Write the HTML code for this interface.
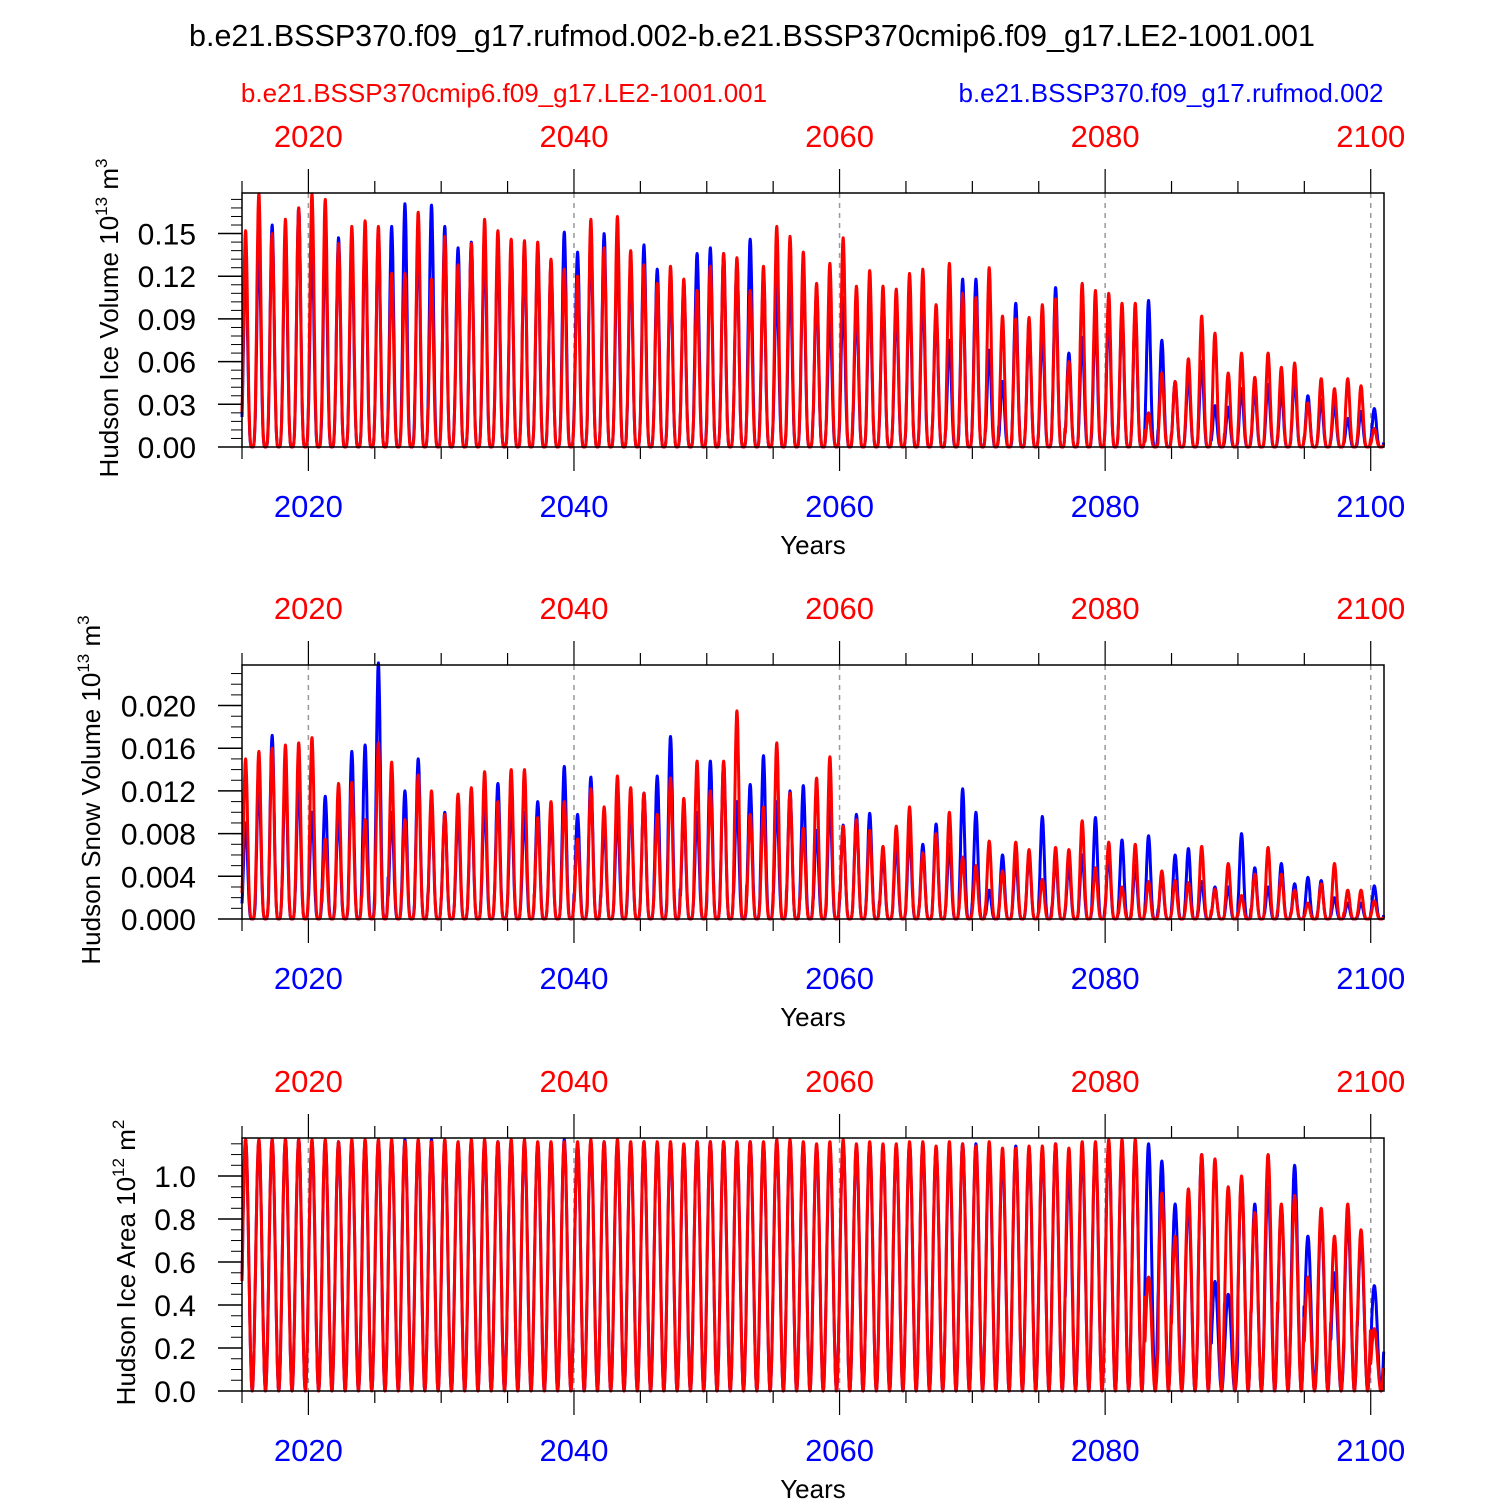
<!DOCTYPE html>
<html><head><meta charset="utf-8"><style>
body{margin:0;background:#fff}
svg{display:block;font-family:"Liberation Sans",sans-serif}
</style></head><body>
<svg id="chart" width="1500" height="1500" viewBox="0 0 1500 1500" xmlns="http://www.w3.org/2000/svg">
<text x="752" y="46" font-size="30.5" text-anchor="middle">b.e21.BSSP370.f09_g17.rufmod.002-b.e21.BSSP370cmip6.f09_g17.LE2-1001.001</text>
<text x="504" y="102" font-size="26" fill="#f00" text-anchor="middle">b.e21.BSSP370cmip6.f09_g17.LE2-1001.001</text>
<text x="1171" y="102" font-size="26" fill="#00f" text-anchor="middle">b.e21.BSSP370.f09_g17.rufmod.002</text>
</svg>
<script>
const years = [];
for (let y = 2015; y <= 2100; y++) years.push(y);
const xTickYears = [2020, 2040, 2060, 2080, 2100];

const iceVolRed = [.152,.178,.150,.160,.168,.178,.174,.143,.155,.159,
.155,.122,.122,.165,.118,.148,.128,.143,.160,.152,
.146,.145,.144,.132,.125,.120,.160,.140,.162,.138,
.128,.115,.127,.118,.110,.127,.136,.133,.110,.127,
.155,.148,.137,.115,.129,.147,.113,.124,.113,.111,
.122,.125,.100,.129,.108,.105,.126,.092,.090,.091,
.100,.104,.060,.115,.110,.108,.101,.101,.024,.052,
.046,.062,.092,.080,.052,.066,.049,.066,.056,.059,
.031,.048,.041,.048,.043,.013];
const iceVolBlue = [.130,.145,.156,.150,.168,.140,.145,.147,.140,.150,
.150,.155,.171,.150,.170,.155,.140,.144,.145,.140,
.140,.140,.138,.130,.151,.137,.150,.150,.140,.130,
.142,.125,.120,.115,.136,.140,.136,.130,.146,.120,
.115,.120,.125,.110,.095,.105,.100,.110,.105,.100,
.110,.110,.095,.075,.118,.118,.068,.046,.101,.085,
.082,.112,.066,.077,.090,.095,.095,.095,.103,.075,
.046,.050,.060,.029,.028,.041,.040,.044,.040,.048,
.036,.033,.030,.020,.025,.027];
const snowRed = [.0150,.0157,.0160,.0163,.0165,.0170,.0075,.0127,.0128,.0093,
.0165,.0147,.0093,.0135,.0120,.0098,.0117,.0123,.0138,.0110,
.0140,.0140,.0095,.0110,.0110,.0075,.0122,.0105,.0134,.0123,
.0118,.0098,.0132,.0113,.0148,.0120,.0148,.0195,.0098,.0105,
.0165,.0118,.0085,.0132,.0152,.0087,.0093,.0083,.0068,.0087,
.0105,.0062,.0080,.0100,.0058,.0050,.0073,.0045,.0072,.0065,
.0037,.0067,.0065,.0092,.0048,.0072,.0030,.0070,.0035,.0045,
.0036,.0034,.0068,.0028,.0052,.0022,.0042,.0067,.0042,.0027,
.0015,.0033,.0052,.0027,.0027,.0017];
const snowBlue = [.0090,.0130,.0172,.0140,.0130,.0100,.0115,.0100,.0157,.0163,
.0240,.0100,.0120,.0150,.0110,.0100,.0100,.0110,.0110,.0127,
.0110,.0100,.0110,.0100,.0143,.0098,.0133,.0090,.0100,.0110,
.0118,.0134,.0171,.0100,.0100,.0148,.0147,.0110,.0126,.0153,
.0110,.0120,.0125,.0083,.0110,.0088,.0098,.0099,.0060,.0070,
.0080,.0070,.0089,.0070,.0122,.0100,.0027,.0060,.0055,.0060,
.0096,.0056,.0050,.0060,.0095,.0060,.0074,.0050,.0078,.0040,
.0060,.0066,.0035,.0030,.0030,.0080,.0048,.0030,.0052,.0033,
.0039,.0036,.0020,.0015,.0015,.0031];
const areaRed = [1.17,1.17,1.17,1.17,1.17,1.17,1.17,1.16,1.17,1.17,
1.17,1.17,1.16,1.17,1.16,1.17,1.16,1.17,1.17,1.16,
1.17,1.17,1.16,1.16,1.16,1.16,1.17,1.16,1.17,1.16,
1.16,1.16,1.16,1.15,1.16,1.16,1.16,1.16,1.16,1.16,
1.17,1.17,1.16,1.15,1.16,1.17,1.15,1.16,1.15,1.15,
1.16,1.16,1.14,1.16,1.15,1.14,1.16,1.13,1.13,1.14,
1.14,1.15,1.13,1.16,1.16,1.17,1.17,1.17,.53,.92,
.72,.94,1.10,1.08,.95,1.00,.83,1.10,.87,.91,
.53,.85,.72,.87,.75,.29];
const areaBlue = [1.17,1.16,1.17,1.17,1.17,1.16,1.16,1.16,1.16,1.16,
1.16,1.16,1.17,1.16,1.17,1.16,1.15,1.16,1.16,1.16,
1.16,1.16,1.15,1.15,1.17,1.15,1.16,1.16,1.16,1.15,
1.16,1.15,1.15,1.14,1.16,1.16,1.16,1.15,1.16,1.15,
1.16,1.16,1.15,1.14,1.14,1.15,1.14,1.15,1.14,1.14,
1.15,1.15,1.13,1.12,1.15,1.15,1.12,1.10,1.14,1.12,
1.12,1.15,1.02,1.12,1.14,1.15,1.15,1.15,1.15,1.07,
.87,.88,1.10,.51,.45,.98,.87,.95,.85,1.05,
.72,.80,.55,.80,.70,.49];

const panels = [
 {name:'ice-volume', top:193, bottom:447, ymax:0.1785, ticks:[0,.03,.06,.09,.12,.15], minor:.006, dec:2, red:iceVolRed, blue:iceVolBlue, pw:2.2, title:'Hudson Ice Volume 10', exp:'13', unit:' m', uexp:'3', tx:118},
 {name:'snow-volume', top:665, bottom:919, ymax:0.0238, ticks:[0,.004,.008,.012,.016,.02], minor:.001, dec:3, red:snowRed, blue:snowBlue, pw:2.2, title:'Hudson Snow Volume 10', exp:'13', unit:' m', uexp:'3', tx:100},
 {name:'ice-area', top:1138, bottom:1391, ymax:1.177, ticks:[0,.2,.4,.6,.8,1.0], minor:.05, dec:1, red:areaRed, blue:areaBlue, pw:1.0, title:'Hudson Ice Area 10', exp:'12', unit:' m', uexp:'2', tx:135}
];
const X0=242, X1=1384, T0=2015, T1=2101;
const xs = t => X0 + (t-T0)/(T1-T0)*(X1-X0);
const svg = document.getElementById('chart');
const NS='http://www.w3.org/2000/svg';
function mk(tag, attrs, parent){const e=document.createElementNS(NS,tag);for(const k in attrs)e.setAttribute(k,attrs[k]);(parent||svg).appendChild(e);return e;}

panels.forEach(p=>{
  const g = mk('g',{});
  
  
  const ys = v => p.bottom - v/p.ymax*(p.bottom-p.top);
  xTickYears.forEach(yr=>{
    const l=mk('line',{x1:xs(yr),x2:xs(yr),y1:p.top,y2:p.bottom,stroke:'#999','stroke-width':1.5,'stroke-dasharray':'5,5'},g);
    
    
  });
  [['blue',p.blue,'#0000ff'],['red',p.red,'#ff0000']].forEach(([nm,arr,col])=>{
    let pts=[];
    for(let t=T0;t<=T1;t+=1/48){
      const i=Math.floor(t-T0);
      const ph=(t-T0)-i;
      const c=(1+Math.cos(2*Math.PI*(ph-0.27)))/2;
      const f=Math.pow(c,p.pw);
      const v=i<arr.length ? arr[i]*f : 0;
      pts.push(xs(t).toFixed(1)+','+ys(v).toFixed(1));
    }
    const pl=mk('polyline',{points:pts.join(' '),fill:'none',stroke:col,'stroke-width':3,'stroke-linejoin':'round'},g);
    
    
  });
  const fr=mk('rect',{x:X0,y:p.top,width:X1-X0,height:p.bottom-p.top,fill:'none',stroke:'#000','stroke-width':1.5},g);
  
  
  for(let v=0; v<=p.ymax+1e-9; v+=p.minor){
    mk('line',{x1:X0-11,x2:X0,y1:ys(v),y2:ys(v),stroke:'#000','stroke-width':1},g);
  }
  p.ticks.forEach(v=>{
    mk('line',{x1:X0-24,x2:X0,y1:ys(v),y2:ys(v),stroke:'#000','stroke-width':1.5},g);
    const t=mk('text',{x:X0-46,y:ys(v)+11,'font-size':30,'text-anchor':'end'},g);
    t.textContent=v.toFixed(p.dec);
    
    
  });
  for(let yr=2015; yr<=2100; yr+=5){
    const major = xTickYears.includes(yr);
    const L = major?24:12;
    mk('line',{x1:xs(yr),x2:xs(yr),y1:p.top-L,y2:p.top,stroke:'#000','stroke-width':1.2},g);
    mk('line',{x1:xs(yr),x2:xs(yr),y1:p.bottom,y2:p.bottom+L,stroke:'#000','stroke-width':1.2},g);
  }
  xTickYears.forEach(yr=>{
    const a=mk('text',{x:xs(yr),y:p.top-46,'font-size':31,'text-anchor':'middle',fill:'#ff0000'},g);
    a.textContent=yr;
    
    
    const b=mk('text',{x:xs(yr),y:p.bottom+70,'font-size':31,'text-anchor':'middle',fill:'#0000ff'},g);
    b.textContent=yr;
    
    
  });
  const xt=mk('text',{x:813,y:p.bottom+107,'font-size':26,'text-anchor':'middle'},g);
  xt.textContent='Years';
  
  
  const cy=(p.top+p.bottom)/2;
  const yt=mk('text',{x:0,y:0,'font-size':26,'text-anchor':'middle',transform:`translate(${p.tx},${cy-2}) rotate(-90)`},g);
  
  
  yt.innerHTML=`${p.title}<tspan font-size="17" dy="-11">${p.exp}</tspan><tspan dy="11">${p.unit}</tspan><tspan font-size="17" dy="-11">${p.uexp}</tspan>`;
});
</script>
</body></html>
